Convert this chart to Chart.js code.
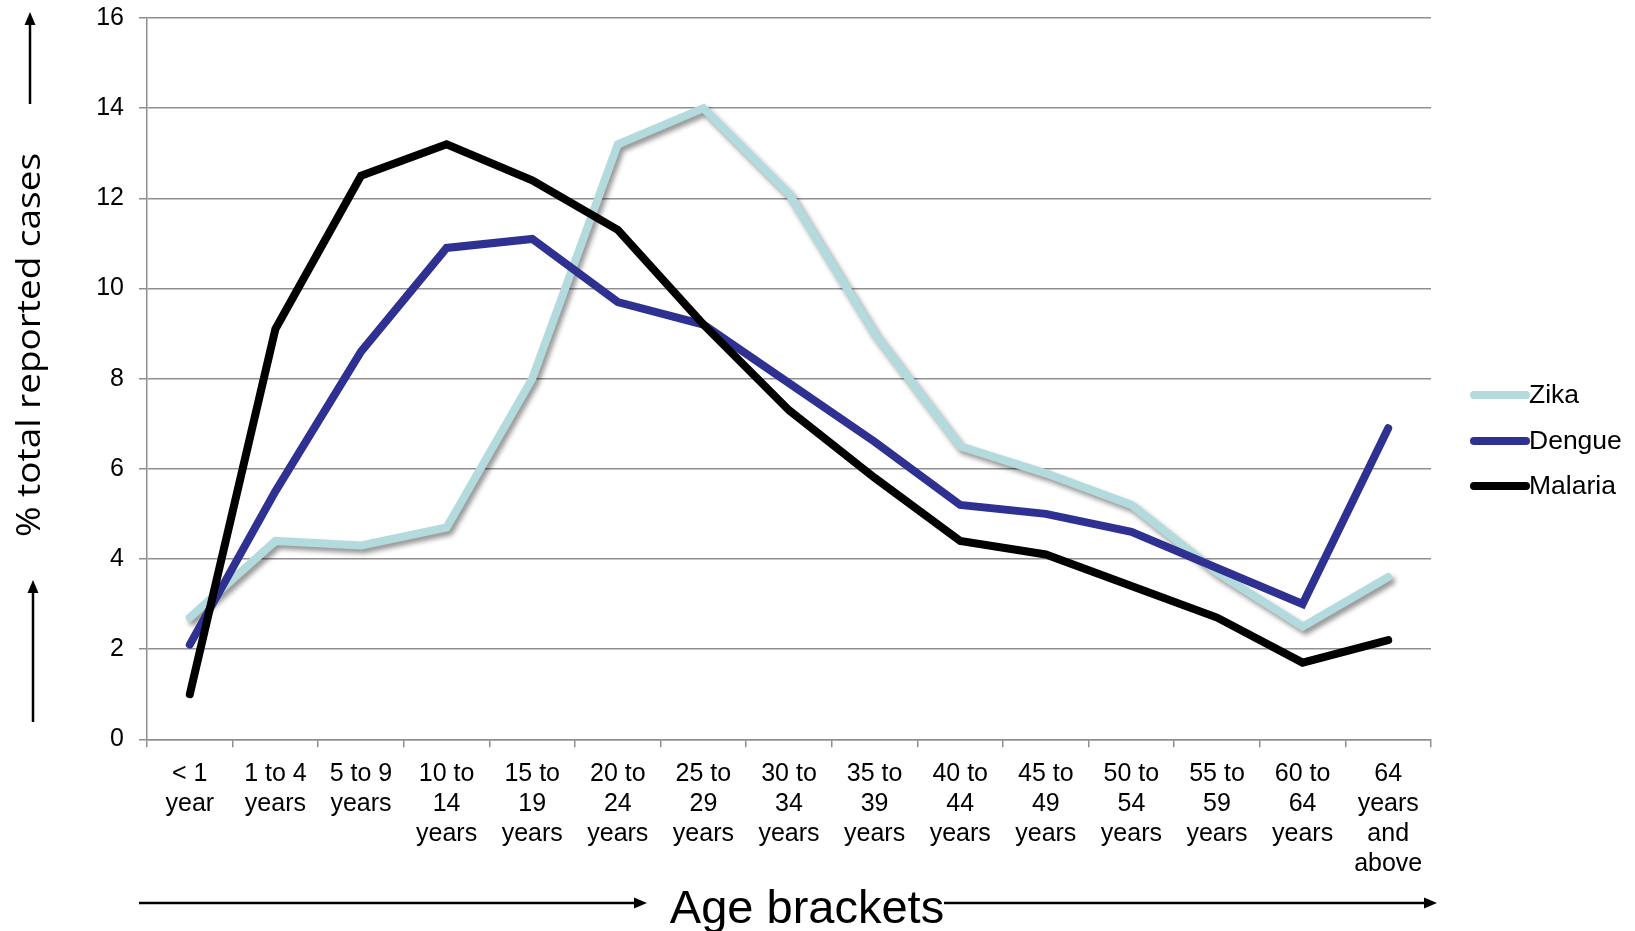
<!DOCTYPE html>
<html>
<head>
<meta charset="utf-8">
<script src="https://cdn.jsdelivr.net/npm/chart.js@4/dist/chart.umd.min.js"></script>
<style>
  html, body { margin: 0; padding: 0; background: #ffffff; }
  #wrap { width: 1635px; height: 931px; position: relative; }
</style>
</head>
<body>
<div id="wrap"><canvas id="chart" width="1635" height="931"></canvas></div>
<script>
// Age brackets (x categories), each label split over lines
const ageBrackets = [
  ['< 1', 'year'],
  ['1 to 4', 'years'],
  ['5 to 9', 'years'],
  ['10 to', '14', 'years'],
  ['15 to', '19', 'years'],
  ['20 to', '24', 'years'],
  ['25 to', '29', 'years'],
  ['30 to', '34', 'years'],
  ['35 to', '39', 'years'],
  ['40 to', '44', 'years'],
  ['45 to', '49', 'years'],
  ['50 to', '54', 'years'],
  ['55 to', '59', 'years'],
  ['60 to', '64', 'years'],
  ['64', 'years', 'and', 'above']
];

// Share of total reported cases (%) per age bracket
const zika    = [2.7, 4.4, 4.3, 4.7, 8.0, 13.2, 14.0, 12.1, 9.0, 6.5, 5.9, 5.2, 3.7, 2.5, 3.6];
const dengue  = [2.1, 5.5, 8.6, 10.9, 11.1, 9.7, 9.2, 7.9, 6.6, 5.2, 5.0, 4.6, 3.8, 3.0, 6.9];
const malaria = [1.0, 9.1, 12.5, 13.2, 12.4, 11.3, 9.2, 7.3, 5.8, 4.4, 4.1, 3.4, 2.7, 1.7, 2.2];

// Y axis range and step
const yMin = 0, yMax = 16, yStep = 2;

const seriesNames  = ['Zika', 'Dengue', 'Malaria'];
const seriesColors = ['#b3dbdd', '#2e3192', '#000000'];

const FONT = '"Liberation Sans", Arial, Helvetica, sans-serif';

function arrow(ctx, x1, y1, x2, y2) {
  const ang = Math.atan2(y2 - y1, x2 - x1);
  const headLen = 13, headHalf = 5.5;
  const bx = x2 - headLen * Math.cos(ang), by = y2 - headLen * Math.sin(ang);
  ctx.beginPath();
  ctx.moveTo(x1, y1);
  ctx.lineTo(bx, by);
  ctx.stroke();
  ctx.beginPath();
  ctx.moveTo(x2, y2);
  ctx.lineTo(bx + headHalf * Math.sin(ang), by - headHalf * Math.cos(ang));
  ctx.lineTo(bx - headHalf * Math.sin(ang), by + headHalf * Math.cos(ang));
  ctx.closePath();
  ctx.fill();
}

// Soft drop shadow under the Zika line
const shadowPlugin = {
  id: 'zikaShadow',
  beforeDatasetDraw(chart, args) {
    if (args.index !== 0) return;
    const ctx = chart.ctx;
    ctx.save();
    ctx.shadowColor = 'rgba(0,0,0,0.42)';
    ctx.shadowBlur = 5;
    ctx.shadowOffsetX = 3;
    ctx.shadowOffsetY = 4;
  },
  afterDatasetDraw(chart, args) {
    if (args.index !== 0) return;
    chart.ctx.restore();
  }
};

// Axis titles, arrows and the legend on the right
const decorPlugin = {
  id: 'decor',
  afterDraw(chart) {
    const ctx = chart.ctx;
    ctx.save();

    // legend
    const legendY = [395, 441, 486];
    chart.data.datasets.forEach((ds, i) => {
      ctx.strokeStyle = ds.borderColor;
      ctx.lineWidth = 8;
      ctx.lineCap = 'round';
      ctx.beginPath();
      ctx.moveTo(1474, legendY[i]);
      ctx.lineTo(1526, legendY[i]);
      ctx.stroke();
      ctx.fillStyle = '#000';
      ctx.font = '26.5px ' + FONT;
      ctx.textAlign = 'left';
      ctx.textBaseline = 'middle';
      ctx.fillText(ds.label, 1529, legendY[i] + 1);
    });

    // y axis title, rotated
    ctx.save();
    ctx.translate(31, 345);
    ctx.rotate(-Math.PI / 2);
    ctx.font = '33px "Open Sans", "Noto Sans", sans-serif';
    const yTitle = '% total reported cases';
    const w = ctx.measureText(yTitle).width;
    ctx.scale(384 / w, 1);
    ctx.fillStyle = '#000';
    ctx.textAlign = 'center';
    ctx.textBaseline = 'middle';
    ctx.fillText(yTitle, 0, 0);
    ctx.restore();

    // x axis title
    ctx.fillStyle = '#000';
    ctx.font = '47px ' + FONT;
    ctx.textAlign = 'center';
    ctx.textBaseline = 'alphabetic';
    ctx.fillText('Age brackets', 807, 923);

    // arrows
    ctx.strokeStyle = '#000';
    ctx.fillStyle = '#000';
    ctx.lineWidth = 2.5;
    ctx.lineCap = 'butt';
    arrow(ctx, 30, 104, 30, 12);
    arrow(ctx, 33, 722, 33, 580);
    arrow(ctx, 139, 903, 647, 903);
    arrow(ctx, 944, 903, 1437, 903);

    ctx.restore();
  }
};

const makeSet = (i, values, order) => ({
  label: seriesNames[i],
  data: values,
  borderColor: seriesColors[i],
  backgroundColor: seriesColors[i],
  borderWidth: 8,
  borderCapStyle: 'round',
  borderJoinStyle: 'miter',
  pointRadius: 0,
  pointHoverRadius: 0,
  tension: 0,
  fill: false,
  order: order
});

new Chart(document.getElementById('chart'), {
  type: 'line',
  data: {
    labels: ageBrackets,
    datasets: [
      makeSet(0, zika, 3),
      makeSet(1, dengue, 2),
      makeSet(2, malaria, 1)
    ]
  },
  options: {
    responsive: false,
    animation: false,
    devicePixelRatio: 1,
    layout: { padding: { left: 0, top: 18, right: 204, bottom: 0 } },
    plugins: {
      legend: { display: false },
      tooltip: { enabled: false }
    },
    scales: {
      x: {
        type: 'category',
        offset: true,
        grid: {
          offset: true,
          drawOnChartArea: false,
          drawTicks: true,
          tickLength: 8,
          color: '#8f8f8f',
          lineWidth: 1.5
        },
        border: { color: '#8f8f8f', width: 1.5 },
        ticks: {
          color: '#000',
          font: { family: FONT, size: 25, lineHeight: 1.2 },
          maxRotation: 0,
          minRotation: 0,
          autoSkip: false,
          padding: 12
        },
        afterFit(scale) {
          scale.height = 931 - 739.3;
          scale.paddingLeft = 0;
          scale.paddingRight = 0;
        }
      },
      y: {
        min: yMin,
        max: yMax,
        grid: {
          color: '#8f8f8f',
          lineWidth: 1.5,
          drawTicks: true,
          tickLength: 8
        },
        border: { color: '#8f8f8f', width: 1.5 },
        ticks: {
          stepSize: yStep,
          color: '#000',
          font: { family: FONT, size: 25 },
          padding: 15
        },
        afterFit(scale) {
          scale.width = 147;
          scale.paddingTop = 0;
          scale.paddingBottom = 0;
        }
      }
    }
  },
  plugins: [shadowPlugin, decorPlugin]
});
</script>
</body>
</html>
